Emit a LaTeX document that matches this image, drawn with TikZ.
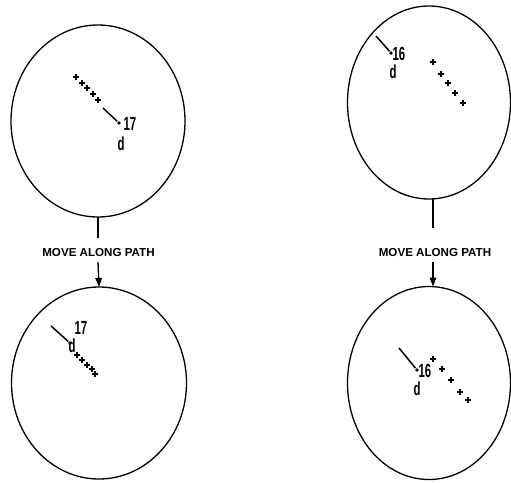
\documentclass[tikz,border=0pt]{standalone}
\usepackage{fontspec}
\setmainfont{Liberation Sans}
\newfontfamily\plotfont[FakeStretch=0.6]{Liberation Sans}
\usetikzlibrary{shapes.geometric,arrows.meta}
\begin{document}
\begin{tikzpicture}[x=1pt,y=-1pt,line width=1.3pt,
  disc/.style={draw,ellipse,inner sep=0pt,outer sep=0pt,line width=1.3pt},
  lbl/.style={font=\bfseries\fontsize{11.6}{13}\selectfont,inner sep=0pt},
  num/.style={font=\plotfont\bfseries\fontsize{19}{19}\selectfont,inner sep=0pt,anchor=base west},
  dotmark/.style={circle,fill,inner sep=0pt,minimum size=3.6pt},
  crs/.pic={\draw[line width=1.4pt] (-2.8,0)--(2.8,0) (0,-2.8)--(0,2.8);},
  arr/.style={-{Triangle[length=9pt,width=6.5pt]},line width=1.3pt}
]
\useasboundingbox (0,0) rectangle (511,482);

% circles
\node[disc,minimum width=174pt,minimum height=192pt] (c1) at (98,121) {};
\node[disc,minimum width=163pt,minimum height=193pt] (c2) at (429,102.5) {};
\node[disc,minimum width=175pt,minimum height=192pt] (c3) at (99,383) {};
\node[disc,minimum width=163pt,minimum height=193pt] (c4) at (429,383) {};

% labels between
\node[lbl] (t1) at (98.5,252.5) {MOVE ALONG PATH};
\node[lbl] (t2) at (435,252.5) {MOVE ALONG PATH};
\coordinate (e1) at (98,238);
\coordinate (s1) at (98,262);
\coordinate (e2) at (433,228);
\coordinate (s2) at (433,262);
\draw (c1.south) -- (e1);
\draw[arr] (s1) -- (c3.north);
\draw (c2.south -| e2) -- (e2);
\draw[arr] (s2) -- (c4.north -| s2);

% top-left contents
\foreach \p in {(76,77),(82,83),(87,88),(93,94),(98,100)} \pic at \p {crs};
\coordinate (a1) at (103,108);
\node[dotmark] (d1) at (119,123) {};
\draw[line width=1.5pt] (a1) -- (d1);
\node[num] (n1) at (123,130) {17};
\node[num] (m1) at (117,150) {d};

% top-right contents
\coordinate (a2) at (376,36);
\node[dotmark] (d2) at (391,53) {};
\draw[line width=1.5pt] (a2) -- (d2);
\node[num] (n2) at (392,60) {16};
\node[num] (m2) at (389,78) {d};
\foreach \p in {(433,62),(441,74),(448,83),(455,93),(463,103)} \pic at \p {crs};

% bottom-left contents
\coordinate (a3) at (51,326);
\node[dotmark] (d3) at (70,343) {};
\draw[line width=1.5pt] (a3) -- (d3);
\node[num] (n3) at (74,334) {17};
\node[num] (m3) at (68,352) {d};
\foreach \p in {(77,355),(82,360),(87,365),(92,369),(95,374)} \pic at \p {crs};

% bottom-right contents
\coordinate (a4) at (399,348);
\node[dotmark] (d4) at (417,370) {};
\draw[line width=1.5pt] (a4) -- (d4);
\node[num] (n4) at (418,377) {16};
\node[num] (m4) at (413,395) {d};
\foreach \p in {(433,359),(442,369),(451,380),(460,392),(468,400)} \pic at \p {crs};
\end{tikzpicture}
\end{document}
